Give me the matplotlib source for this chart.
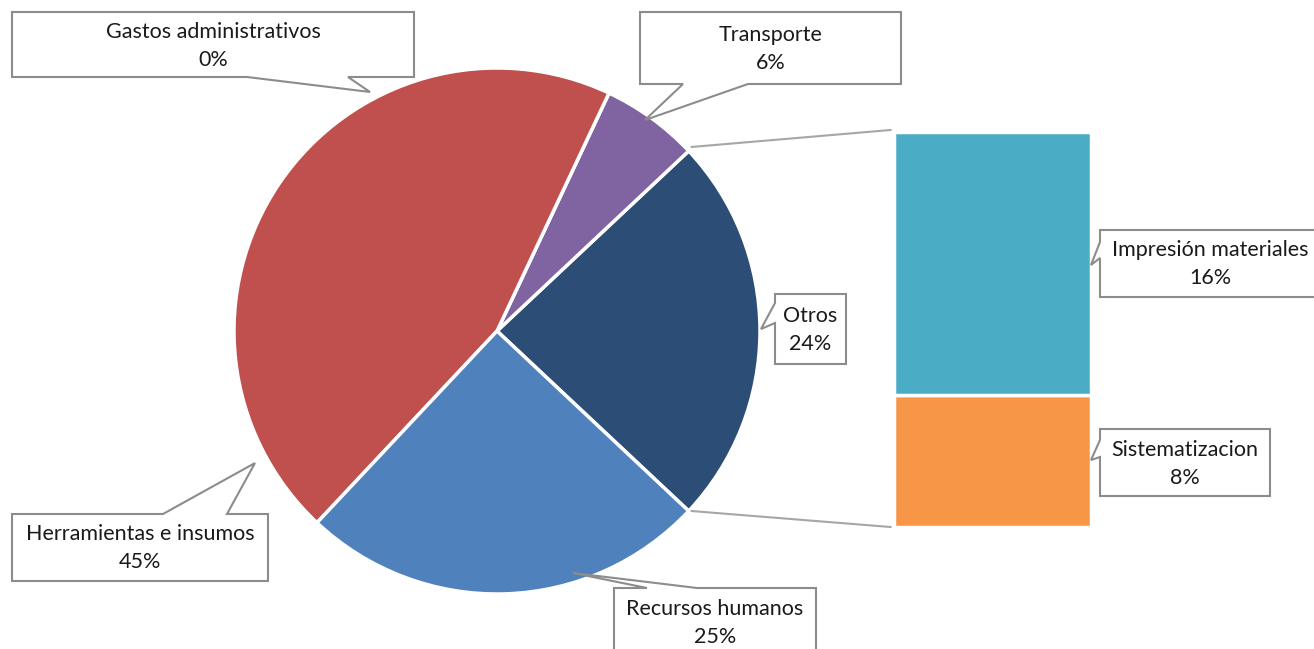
import numpy as np
import matplotlib.pyplot as plt
from matplotlib.patches import Polygon

plt.rcParams['font.family'] = ['Lato', 'DejaVu Sans']

# data
pie_labels = ['Otros', 'Transporte', 'Gastos administrativos',
              'Herramientas e insumos', 'Recursos humanos']
sub_labels = ['Sistematizacion', 'Impresión materiales']
sub_values = [8, 16]
pie_values = [sum(sub_values), 6, 0, 45, 25]
pie_colors = ['#2C4D75', '#8064A2', '#9BBB59', '#C0504D', '#4F81BD']
sub_colors = ['#F79646', '#4BACC6']

W, H = 1314, 649
fig = plt.figure(figsize=(W / 100, H / 100), dpi=100)
ax = fig.add_axes([0, 0, 1, 1])

cx, cy, r = 497, H - 331, 263
start = -360 * pie_values[0] / sum(pie_values) / 2
wedges, _ = ax.pie(pie_values, colors=pie_colors, startangle=start,
                   center=(cx, cy), radius=r,
                   wedgeprops=dict(edgecolor='white', linewidth=2.5))

# bar of the "Otros" slice
bar_x, bar_w, bar_bottom, bar_h = 992, 197, H - 527, 395
scale = bar_h / sum(sub_values)
bottom = bar_bottom
bars = []
for v, c in zip(sub_values, sub_colors):
    b = ax.bar(bar_x, v * scale, width=bar_w, bottom=bottom, color=c,
               edgecolor='white', linewidth=2.5)
    bars.append(b[0])
    bottom += v * scale

# connector lines
w0 = wedges[0]
p_top = (cx + r * np.cos(np.radians(w0.theta2)), cy + r * np.sin(np.radians(w0.theta2)))
p_bot = (cx + r * np.cos(np.radians(w0.theta1)), cy + r * np.sin(np.radians(w0.theta1)))
top_bar = bars[-1]
bot_bar = bars[0]
ax.plot([p_top[0] + 3, top_bar.get_x() - 3], [p_top[1] + 4, top_bar.get_y() + top_bar.get_height() + 2],
        color='#a6a6a6', lw=1.5)
ax.plot([p_bot[0] + 3, bot_bar.get_x() - 3], [p_bot[1], bot_bar.get_y()],
        color='#a6a6a6', lw=1.5)


def callout(text, box, side, base, tip, tx=None, ty=None):
    x0, y0, x1, y1 = box
    a, b = base
    if side == 'top':
        pts = [(x0, y0), (a, y0), tip, (b, y0), (x1, y0), (x1, y1), (x0, y1)]
    elif side == 'bottom':
        pts = [(x0, y0), (x1, y0), (x1, y1), (b, y1), tip, (a, y1), (x0, y1)]
    else:
        pts = [(x0, y0), (x1, y0), (x1, y1), (x0, y1), (x0, b), tip, (x0, a)]
    pts = [(px, H - py) for px, py in pts]
    ax.add_patch(Polygon(pts, closed=True, facecolor='white', edgecolor='#8c8c8c',
                         lw=1.5, zorder=5))
    if tx is None:
        tx = (x0 + x1) / 2
    if ty is None:
        ty = (y0 + y1) / 2 + 1
    ax.text(tx, H - ty, text, ha='center', va='center', fontsize=15.5,
            linespacing=1.5, zorder=6, color='#1a1a1a')


pct = [f'{round(100 * v / sum(pie_values))}%' for v in pie_values]
sub_pct = [f'{round(100 * v / sum(pie_values))}%' for v in sub_values]

callout(f'{pie_labels[2]}\n{pct[2]}', (12, 12, 414, 77), 'bottom', (247, 348), (370, 92))
callout(f'{pie_labels[1]}\n{pct[1]}', (640, 12, 901, 84), 'bottom', (683, 748), (645, 120))
callout(f'{pie_labels[0]}\n{pct[0]}', (775, 294, 846, 364), 'left', (303, 323), (761, 329))
callout(f'{pie_labels[3]}\n{pct[3]}', (12, 514, 268, 581), 'top', (163, 227), (255, 463))
callout(f'{pie_labels[4]}\n{pct[4]}', (614, 588, 816, 690), 'top', (647, 697), (573, 573),
        ty=623)
callout(f'{sub_labels[1]}\n{sub_pct[1]}', (1100, 230, 1340, 297), 'left', (242, 258), (1091, 265),
        tx=1210)
callout(f'{sub_labels[0]}\n{sub_pct[0]}', (1100, 429, 1270, 496), 'left', (440, 457), (1091, 460))

ax.set_xlim(0, W)
ax.set_ylim(0, H)
ax.set_aspect('equal')
ax.axis('off')

fig.savefig('out.png', dpi=100)
